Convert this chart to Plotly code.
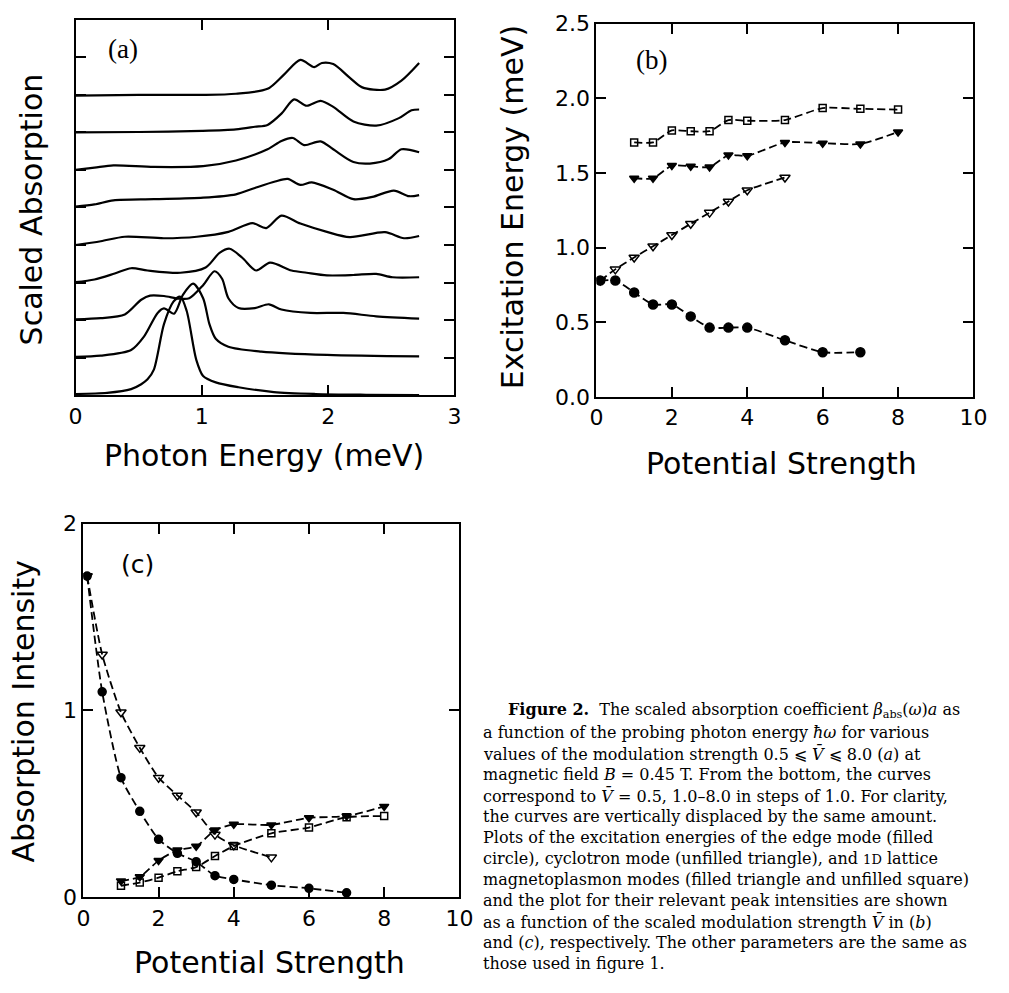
import plotly.graph_objects as go

W, H = 1009, 993

# ---------------- Panel (a): scaled absorption spectra ----------------
V_LABELS = [0.5, 1, 2, 3, 4, 5, 6, 7, 8]
OFFSET_STEP = 1.0

E_05 = [0.0, 0.25, 0.44, 0.52, 0.57, 0.62, 0.70, 0.775, 0.83, 0.88, 0.956, 1.01, 1.11, 1.29, 1.57, 1.9, 2.3, 2.72]
A_05 = [0.03, 0.06, 0.16, 0.29, 0.42, 0.68, 1.89, 2.49, 2.62, 2.24, 0.94, 0.51, 0.34, 0.21, 0.08, 0.03, 0.01, 0.0]

E_1 = [0.0, 0.2, 0.44, 0.54, 0.65, 0.70, 0.78, 0.85, 0.93, 1.01, 1.06, 1.11, 1.21, 1.47, 1.99, 2.72]
A_1 = [0.02, 0.05, 0.2, 0.55, 1.19, 1.31, 1.17, 1.67, 1.97, 1.58, 0.89, 0.5, 0.29, 0.16, 0.07, 0.03]

E_2 = [0.0, 0.2, 0.39, 0.52, 0.59, 0.70, 0.82, 0.90, 1.01, 1.10, 1.16, 1.21, 1.29, 1.42, 1.53, 1.63, 1.86, 2.12, 2.38, 2.72]
A_2 = [0.02, 0.05, 0.15, 0.54, 0.65, 0.64, 0.57, 0.58, 0.93, 1.30, 1.1, 0.58, 0.32, 0.32, 0.42, 0.28, 0.19, 0.19, 0.1, 0.04]

E_3 = [0.0, 0.15, 0.31, 0.44, 0.57, 0.83, 1.03, 1.14, 1.22, 1.32, 1.43, 1.54, 1.71, 1.83, 1.99, 2.2, 2.38, 2.51, 2.72]
A_3 = [0.01, 0.08, 0.24, 0.38, 0.32, 0.26, 0.40, 0.79, 0.9, 0.66, 0.32, 0.53, 0.32, 0.26, 0.19, 0.2, 0.23, 0.14, 0.14]

E_4 = [0.0, 0.2, 0.39, 0.70, 0.96, 1.21, 1.40, 1.51, 1.63, 1.78, 1.99, 2.17, 2.45, 2.60, 2.72]
A_4 = [0.0, 0.1, 0.22, 0.18, 0.22, 0.35, 0.58, 0.45, 0.78, 0.57, 0.35, 0.21, 0.34, 0.18, 0.24]

E_5 = [0.0, 0.15, 0.30, 0.62, 1.01, 1.27, 1.42, 1.58, 1.68, 1.78, 1.87, 2.04, 2.20, 2.35, 2.52, 2.64, 2.72]
A_5 = [0.02, 0.08, 0.19, 0.22, 0.26, 0.35, 0.52, 0.69, 0.76, 0.6, 0.67, 0.47, 0.22, 0.28, 0.45, 0.3, 0.33]

E_6 = [0.0, 0.15, 0.30, 0.62, 1.01, 1.27, 1.52, 1.63, 1.72, 1.81, 1.94, 2.04, 2.20, 2.33, 2.48, 2.58, 2.72]
A_6 = [0.0, 0.06, 0.12, 0.08, 0.1, 0.25, 0.55, 0.77, 0.85, 0.66, 0.76, 0.55, 0.21, 0.17, 0.29, 0.55, 0.47]

E_7 = [0.0, 0.5, 1.0, 1.27, 1.42, 1.52, 1.63, 1.73, 1.83, 1.94, 2.04, 2.20, 2.38, 2.56, 2.66, 2.72]
A_7 = [0.0, 0.01, 0.04, 0.08, 0.15, 0.2, 0.5, 0.88, 0.71, 0.84, 0.68, 0.29, 0.18, 0.38, 0.59, 0.61]

E_8 = [0.0, 0.5, 1.0, 1.27, 1.52, 1.65, 1.78, 1.89, 1.95, 2.04, 2.17, 2.27, 2.45, 2.58, 2.72]
A_8 = [-0.02, 0.0, 0.0, 0.03, 0.16, 0.54, 0.93, 0.74, 0.85, 0.82, 0.46, 0.2, 0.14, 0.38, 0.85]

SPECTRA = [(E_05, A_05), (E_1, A_1), (E_2, A_2), (E_3, A_3), (E_4, A_4),
           (E_5, A_5), (E_6, A_6), (E_7, A_7), (E_8, A_8)]

# ---------------- Panel (b): excitation energies ----------------
XB_EDGE = [0.1, 0.5, 1, 1.5, 2, 2.5, 3, 3.5, 4, 5, 6, 7]
YB_EDGE = [0.78, 0.78, 0.70, 0.62, 0.62, 0.54, 0.465, 0.465, 0.465, 0.38, 0.30, 0.30]
XB_CYC = [0.1, 0.5, 1, 1.5, 2, 2.5, 3, 3.5, 4, 5]
YB_CYC = [0.78, 0.855, 0.935, 1.01, 1.085, 1.16, 1.235, 1.31, 1.385, 1.47]
XB_MP1 = [1, 1.5, 2, 2.5, 3, 3.5, 4, 5, 6, 7, 8]
YB_MP1 = [1.465, 1.465, 1.55, 1.545, 1.54, 1.62, 1.615, 1.705, 1.70, 1.695, 1.775]
XB_MP2 = [1, 1.5, 2, 2.5, 3, 3.5, 4, 5, 6, 7, 8]
YB_MP2 = [1.705, 1.705, 1.785, 1.78, 1.78, 1.855, 1.85, 1.855, 1.935, 1.93, 1.925]

# ---------------- Panel (c): absorption intensities ----------------
XC_EDGE = [0.1, 0.5, 1, 1.5, 2, 2.5, 3, 3.5, 4, 5, 6, 7]
YC_EDGE = [1.72, 1.10, 0.64, 0.46, 0.31, 0.235, 0.19, 0.115, 0.095, 0.064, 0.047, 0.023]
XC_CYC = [0.1, 0.5, 1, 1.5, 2, 2.5, 3, 3.5, 4, 5]
YC_CYC = [1.72, 1.30, 0.99, 0.80, 0.64, 0.545, 0.455, 0.335, 0.278, 0.213]
XC_MP1 = [1, 1.5, 2, 2.5, 3, 3.5, 4, 5, 6, 7, 8]
YC_MP1 = [0.087, 0.109, 0.196, 0.252, 0.272, 0.359, 0.39, 0.387, 0.425, 0.434, 0.486]
XC_MP2 = [1, 1.5, 2, 2.5, 3, 3.5, 4, 5, 6, 7, 8]
YC_MP2 = [0.061, 0.078, 0.104, 0.139, 0.161, 0.22, 0.274, 0.342, 0.373, 0.428, 0.434]

CAPTION = [
    "<b>Figure 2.</b>  The scaled absorption coefficient <i>β</i><sub>abs</sub>(<i>ω</i>)<i>a</i> as",
    "a function of the probing photon energy <i>ħω</i> for various",
    "values of the modulation strength 0.5 ⩽ <i>V̄</i> ⩽ 8.0 (<i>a</i>) at",
    "magnetic field <i>B</i> = 0.45 T. From the bottom, the curves",
    "correspond to <i>V̄</i> = 0.5, 1.0–8.0 in steps of 1.0. For clarity,",
    "the curves are vertically displaced by the same amount.",
    "Plots of the excitation energies of the edge mode (filled",
    "circle), cyclotron mode (unfilled triangle), and <span style='font-size:13px'>1D</span> lattice",
    "magnetoplasmon modes (filled triangle and unfilled square)",
    "and the plot for their relevant peak intensities are shown",
    "as a function of the scaled modulation strength <i>V̄</i> in (<i>b</i>)",
    "and (<i>c</i>), respectively. The other parameters are the same as",
    "those used in figure 1.",
]

# ---------------- helpers ----------------
def px(x):
    return x / W

def py(y):
    return 1 - y / H

SANS = "DejaVu Sans"
SERIF = "Liberation Serif"
CAP_FONT = "DejaVu Serif"

def axis(domain, rng, tickvals, labels=True, fmt=None):
    d = dict(domain=domain, range=rng, tickvals=tickvals, showline=True, linewidth=2,
             linecolor="black", mirror="ticks", ticks="inside", ticklen=10, tickwidth=2,
             tickcolor="black", showgrid=False, zeroline=False, showticklabels=labels,
             tickfont=dict(family=SANS, size=22, color="black"), fixedrange=True)
    if fmt:
        d["tickformat"] = fmt
    return d

fig = go.Figure()

# panel (a)
for k, (e, a) in enumerate(SPECTRA):
    fig.add_trace(go.Scatter(x=e, y=[v + k * OFFSET_STEP for v in a], mode="lines",
                             line=dict(color="black", width=2.2, shape="spline", smoothing=0.8),
                             xaxis="x", yaxis="y", showlegend=False,
                             name=f"V={V_LABELS[k]}"))

DASH = "8px,4px"

def series(x, y, symbol, size, xa, ya, lw=1.5):
    fig.add_trace(go.Scatter(
        x=x, y=y, mode="lines+markers",
        line=dict(color="black", width=1.8, dash=DASH, shape="spline", smoothing=0.6),
        marker=dict(symbol=symbol, size=size, color="black", line=dict(color="black", width=lw)),
        xaxis=xa, yaxis=ya, showlegend=False))

# panel (b)
series(XB_EDGE, YB_EDGE, "circle", 9, "x2", "y2")
series(XB_CYC, YB_CYC, "triangle-down-open", 9, "x2", "y2")
series(XB_MP1, YB_MP1, "triangle-down", 8, "x2", "y2")
series(XB_MP2, YB_MP2, "square-open", 7, "x2", "y2")

# panel (c)
series(XC_EDGE, YC_EDGE, "circle", 8, "x3", "y3")
series(XC_CYC, YC_CYC, "triangle-down-open", 9, "x3", "y3")
series(XC_MP1, YC_MP1, "triangle-down", 8, "x3", "y3")
series(XC_MP2, YC_MP2, "square-open", 7, "x3", "y3")

ann = []

def text(x, y, s, size, family=SANS, angle=0, xanchor="center", yanchor="middle"):
    ann.append(dict(x=px(x), y=py(y), xref="paper", yref="paper", text=s, showarrow=False,
                    textangle=angle, xanchor=xanchor, yanchor=yanchor,
                    font=dict(family=family, size=size, color="black")))

# axis titles
text(262, 455, "Photon Energy (meV)", 30)
text(25, 202, "Scaled Absorption", 30, angle=-90)
text(791, 463, "Potential Strength", 30)
text(517, 200, "Excitation Energy (meV)", 30, angle=-90)
text(268, 975, "Potential Strength", 30)
text(17, 717, "Absorption Intensity", 30, angle=-90)

# panel labels
text(118, 38, "(a)", 27, family=SERIF)
text(658, 49, "(b)", 27, family=SERIF)
text(133, 567, "(c)", 25)

# caption
for i, line in enumerate(CAPTION):
    x0 = 510 if i == 0 else 484
    text(x0, 717 + i * 21.6, line, 16, family=CAP_FONT, xanchor="left")

fig.update_layout(
    width=W, height=H, margin=dict(l=0, r=0, t=0, b=0),
    paper_bgcolor="white", plot_bgcolor="white",
    xaxis=axis([px(70), px(457)], [0, 3], [0, 1, 2, 3]),
    yaxis=axis([py(393), py(8)], [0, 10], list(range(0, 11)), labels=False),
    xaxis2=axis([px(602), px(987)], [0, 10], [0, 2, 4, 6, 8, 10]),
    yaxis2=axis([py(395), py(12)], [0, 2.5], [0, 0.5, 1.0, 1.5, 2.0, 2.5], fmt=".1f"),
    xaxis3=axis([px(78), px(462)], [0, 10], [0, 2, 4, 6, 8, 10]),
    yaxis3=axis([py(908), py(525)], [0, 2], [0, 1, 2]),
    annotations=ann,
)
fig.layout.yaxis.anchor = "x"
fig.layout.xaxis.anchor = "y"
fig.layout.xaxis2.anchor = "y2"
fig.layout.yaxis2.anchor = "x2"
fig.layout.xaxis3.anchor = "y3"
fig.layout.yaxis3.anchor = "x3"

fig.write_html("out.html", config={"displayModeBar": False},
               post_script="document.body.style.margin='0px';")
